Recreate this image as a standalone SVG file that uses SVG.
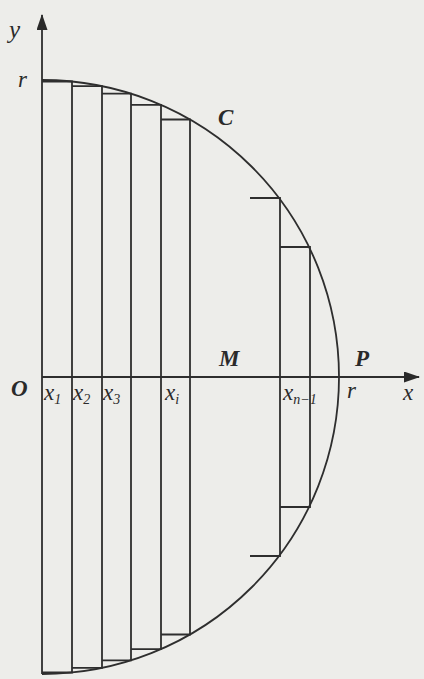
<svg xmlns="http://www.w3.org/2000/svg" width="424" height="679" viewBox="0 0 424 679">
<style>
.ln{stroke:#2e2e2e;stroke-width:1.8;fill:none}
.t{font-family:"Liberation Serif","DejaVu Serif",serif;font-style:italic;fill:#2a2a2a;font-size:23px}
.b{font-weight:bold}
.s{font-size:14px}
</style>
<defs>
<marker id="ah" markerWidth="16" markerHeight="11" refX="15" refY="5.5" orient="auto" markerUnits="userSpaceOnUse">
<path d="M0,0 L16,5.5 L0,11 Z" fill="#2a2a2a"/>
</marker>
</defs>
<rect width="424" height="679" fill="#ededea"/>
<g id="axes">
<line class="ln" x1="42" y1="674" x2="42" y2="15" marker-end="url(#ah)"/>
<line class="ln" x1="42" y1="377" x2="419" y2="377" marker-end="url(#ah)"/>
</g>
<g id="curve">
<path class="ln" d="M42,80 A297,297 0 0 1 42,674"/>
</g>
<g id="strips">
<path class="ln" d="M42,81.5 H72 V672.5 H42"/>
<path class="ln" d="M72,86.1 H102 V667.9 H72"/>
<path class="ln" d="M102,93.7 H131 V660.3 H102"/>
<path class="ln" d="M131,104.9 H161 V649.1 H131"/>
<path class="ln" d="M161,119.5 H190 V634.5 H161"/>
<path class="ln" d="M250,198 H280 V556 H250"/>
<path class="ln" d="M280,247 H310 V507 H280"/>
</g>
<g id="labels">
<text class="t" x="9" y="38" style="font-size:25px">y</text>
<text class="t" x="18" y="87">r</text>
<text class="t b" x="218" y="125">C</text>
<text class="t b" x="219" y="366">M</text>
<text class="t b" x="355" y="366">P</text>
<text class="t b" x="11" y="396">O</text>
<text class="t" x="44" y="400">x<tspan class="s" dy="4">1</tspan></text>
<text class="t" x="73" y="400">x<tspan class="s" dy="4">2</tspan></text>
<text class="t" x="103" y="400">x<tspan class="s" dy="4">3</tspan></text>
<text class="t" x="165" y="400">x<tspan class="s" dy="4">i</tspan></text>
<text class="t" x="283" y="400">x<tspan class="s" dy="4">n−1</tspan></text>
<text class="t" x="347" y="398">r</text>
<text class="t" x="403" y="400">x</text>
</g>
</svg>
